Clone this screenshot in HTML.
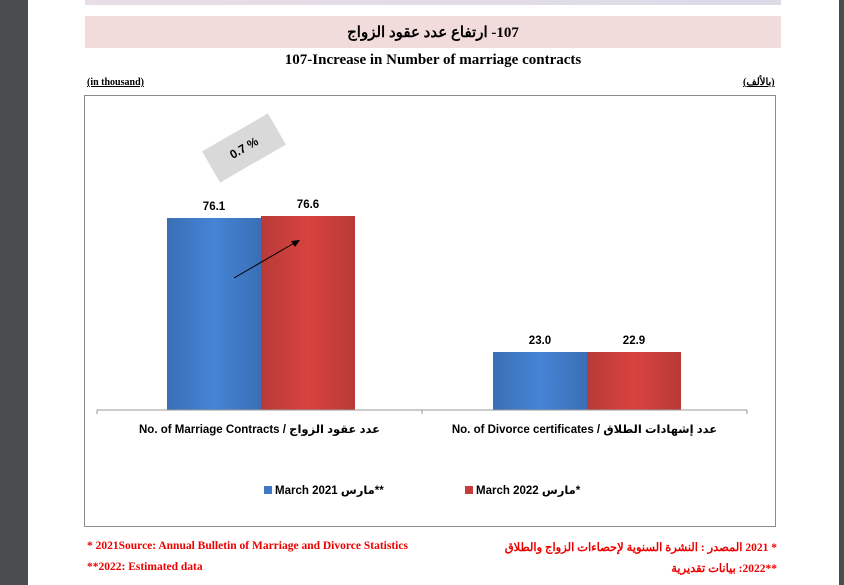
<!DOCTYPE html>
<html><head><meta charset="utf-8"><style>
body{margin:0;width:844px;height:585px;background:#fff;position:relative;overflow:hidden;font-family:"Liberation Sans","DejaVu Sans",sans-serif}
.a{position:absolute}
.serif{font-family:"Liberation Serif","DejaVu Serif",serif;font-weight:bold}
.lbl{font-weight:bold;font-size:11.5px;font-family:"Liberation Sans","DejaVu Sans",sans-serif}
</style></head><body>
<div class="a" style="left:0;top:0;width:28px;height:585px;background:#4a4d50"></div>
<div class="a" style="left:839px;top:0;width:5px;height:585px;background:#4a4d50"></div>
<div class="a" style="left:85px;top:0;width:696px;height:5px;background:linear-gradient(90deg,#e9dde6,#dcdbe8)"></div>
<div class="a" style="left:85px;top:16px;width:696px;height:32px;background:#f2dcdb"></div>
<div class="a serif" dir="rtl" style="left:85px;top:23px;width:696px;text-align:center;font-size:15px">107- ارتفاع عدد عقود الزواج</div>
<div class="a serif" style="left:85px;top:52px;width:696px;text-align:center;font-size:15px">107-Increase in Number of marriage contracts</div>
<div class="a serif" style="left:87px;top:77px;font-size:10px;text-decoration:underline">(in thousand)</div>
<div class="a serif" style="left:743px;top:77px;font-size:10px;text-decoration:underline">(بالألف)</div>
<div class="a" style="left:84px;top:95px;width:690px;height:430px;border:1px solid #8c8c8c"></div>
<svg class="a" style="left:0;top:0" width="844" height="585">
<defs>
<linearGradient id="b" x1="0" x2="1"><stop offset="0" stop-color="#3a6fb5"/><stop offset="0.5" stop-color="#4584d6"/><stop offset="1" stop-color="#3a6fb5"/></linearGradient>
<linearGradient id="r" x1="0" x2="1"><stop offset="0" stop-color="#b83a38"/><stop offset="0.5" stop-color="#d8433f"/><stop offset="1" stop-color="#b83a38"/></linearGradient>
</defs>
<rect x="167" y="218" width="94" height="192" fill="url(#b)"/>
<rect x="261" y="216" width="94" height="194" fill="url(#r)"/>
<rect x="493" y="352" width="94" height="58" fill="url(#b)"/>
<rect x="587" y="352" width="94" height="58" fill="url(#r)"/>
<line x1="97" y1="410" x2="747" y2="410" stroke="#999"/>
<line x1="97" y1="410" x2="97" y2="414" stroke="#999"/>
<line x1="422" y1="410" x2="422" y2="414" stroke="#999"/>
<line x1="747" y1="410" x2="747" y2="414" stroke="#999"/>
<line x1="234" y1="278" x2="296" y2="242" stroke="#000"/>
<polygon points="300,240 291,241 295,247" fill="#000"/>
<g transform="translate(244,148) rotate(-30)"><rect x="-38" y="-18" width="76" height="36" fill="#d9d9d9"/><text x="0" y="4" text-anchor="middle" font-size="12" font-weight="bold" font-family="Liberation Sans,sans-serif">0.7 %</text></g>
<rect x="264" y="486" width="8" height="8" fill="#3f78c6"/>
<rect x="465" y="486" width="8" height="8" fill="#c33e3b"/>
</svg>
<div class="a lbl" style="left:167px;top:201px;width:94px;text-align:center">76.1</div>
<div class="a lbl" style="left:261px;top:199px;width:94px;text-align:center">76.6</div>
<div class="a lbl" style="left:493px;top:335px;width:94px;text-align:center">23.0</div>
<div class="a lbl" style="left:587px;top:335px;width:94px;text-align:center">22.9</div>
<div class="a lbl" style="left:97px;top:422px;width:325px;text-align:center">No. of Marriage Contracts / عدد عقود الزواج</div>
<div class="a lbl" style="left:422px;top:422px;width:325px;text-align:center">No. of Divorce certificates / عدد إشهادات الطلاق</div>
<div class="a lbl" style="left:275px;top:483px">March 2021 مارس**</div>
<div class="a lbl" style="left:476px;top:483px">March 2022 مارس*</div>
<div class="a serif" style="left:87px;top:540px;font-size:11.5px;color:#e00">* 2021Source: Annual Bulletin of Marriage and Divorce Statistics</div>
<div class="a serif" style="left:87px;top:561px;font-size:11.5px;color:#e00">**2022: Estimated data</div>
<div class="a serif" style="left:500px;top:540px;width:277px;text-align:right;font-size:11.5px;color:#e00" dir="rtl">* 2021 المصدر : النشرة السنوية لإحصاءات الزواج والطلاق</div>
<div class="a serif" style="left:500px;top:561px;width:277px;text-align:right;font-size:11.5px;color:#e00" dir="rtl">**2022: بيانات تقديرية</div>
</body></html>
